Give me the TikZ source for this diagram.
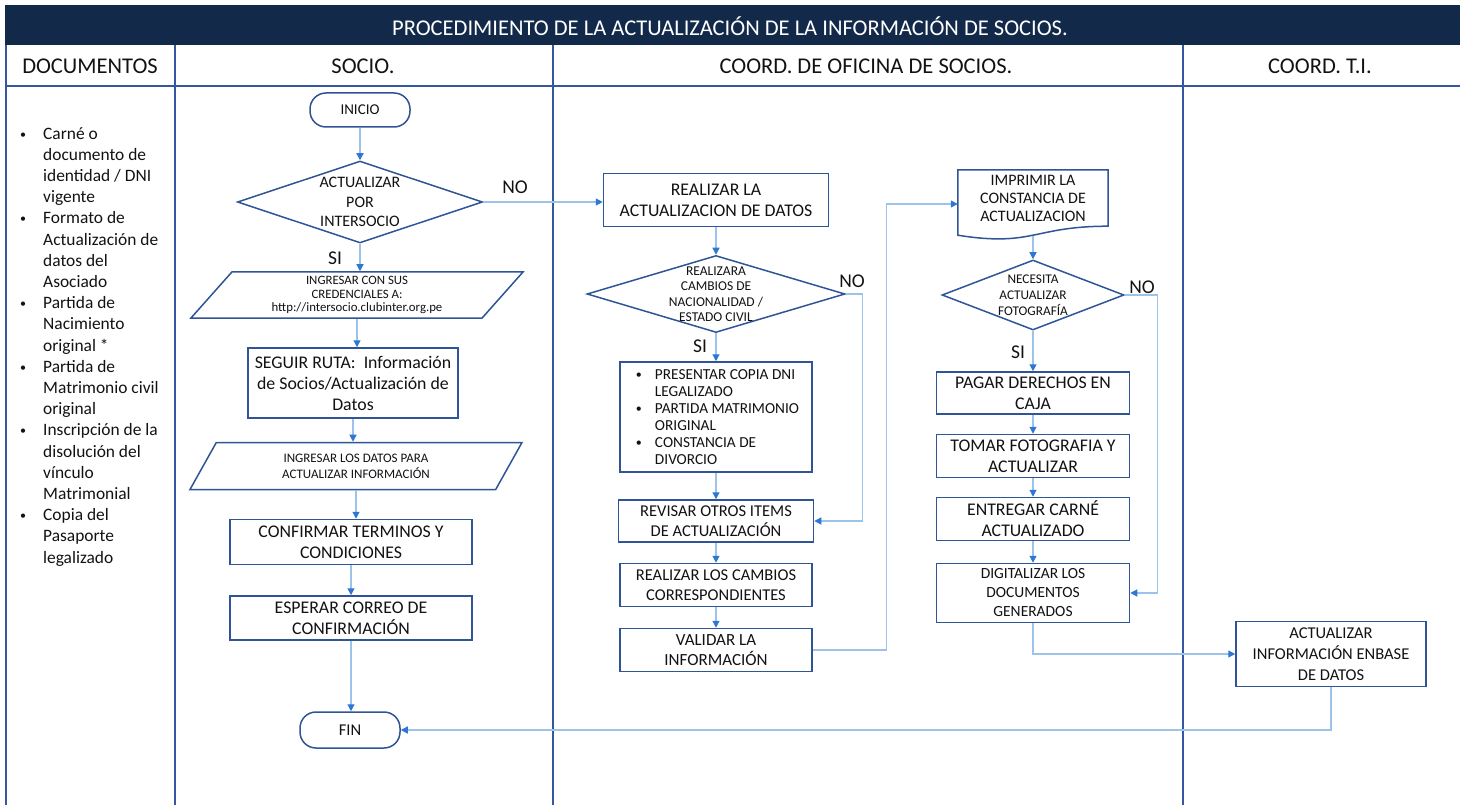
\documentclass[tikz,border=0pt]{standalone}
\usepackage{fontspec}
\setmainfont{Carlito}
\usetikzlibrary{positioning,calc,arrows.meta,shapes.geometric}
\definecolor{navy}{HTML}{12294A}
\definecolor{lane}{HTML}{3556A0}
\definecolor{boxblue}{HTML}{2F5597}
\definecolor{flow}{HTML}{9CC3EA}
\definecolor{tipblue}{HTML}{2E78D2}
\definecolor{ink}{HTML}{121212}
\newcommand{\fsz}[2]{\fontsize{#1}{#2}\selectfont}
\newcommand{\itm}[1]{\makebox[#1][l]{\hspace{3pt}\raisebox{1pt}{\fsz{12}{12}\textbullet}}}
\newcommand{\ind}[1]{\hspace*{#1}}
\tikzset{
	box/.style={draw=boxblue, line width=1.5pt, fill=white, align=center, text=ink, inner sep=1pt, font=\fsz{17.8}{21}},
	term/.style={box, rounded corners=16pt, font=\fsz{15}{16}},
	dec/.style={diamond, draw=boxblue, line width=1.5pt, fill=white, inner sep=0pt},
	dectext/.style={align=center, text=ink, inner sep=0pt},
	io/.style={trapezium, trapezium left angle=43, trapezium right angle=137, trapezium stretches body, draw=boxblue, line width=1.5pt, fill=white, align=center, text=ink, inner sep=0pt},
	flowline/.style={draw=flow, line width=1.3pt, -{Triangle[length=7pt,width=7pt,color=tipblue]}},
	answer/.style={text=ink, font=\fsz{19.5}{20}},
	lanehead/.style={text=ink, font=\fsz{22.5}{24}},
}

\begin{document}
\begin{tikzpicture}[x=1pt, y=-1pt]
	\useasboundingbox (0,0) rectangle (1460,805);

	% lanes
	\fill[navy] (5,5) rectangle (1460,45);
	\node[text=white, font=\fsz{22.5}{24}] (title) at (730,26) {PROCEDIMIENTO DE LA ACTUALIZACIÓN DE LA INFORMACIÓN DE SOCIOS.};
	\foreach \lx in {6,175,553,1183} {
		\draw[lane, line width=1.6pt] (\lx,45) -- (\lx,805);
	}
	\draw[lane, line width=2pt] (5,86) -- (1460,86);
	\node[lanehead] (hdoc) at (90,66) {DOCUMENTOS};
	\node[lanehead] (hsocio) at (363,66) {SOCIO.};
	\node[lanehead] (hcoord) at (866,66) {COORD. DE OFICINA DE SOCIOS.};
	\node[lanehead] (hti) at (1320,66) {COORD. T.I.};

	\node[anchor=north west, align=left, text=ink, font=\fsz{17.4}{21.2}, inner sep=0pt] (docs) at (17,127) {%
		\itm{26pt}Carné o\\ \ind{26pt}documento de\\ \ind{26pt}identidad / DNI\\ \ind{26pt}vigente\\
		\itm{26pt}Formato de\\ \ind{26pt}Actualización de\\ \ind{26pt}datos del\\ \ind{26pt}Asociado\\
		\itm{26pt}Partida de\\ \ind{26pt}Nacimiento\\ \ind{26pt}original *\\
		\itm{26pt}Partida de\\ \ind{26pt}Matrimonio civil\\ \ind{26pt}original\\
		\itm{26pt}Inscripción de la\\ \ind{26pt}disolución del\\ \ind{26pt}vínculo\\ \ind{26pt}Matrimonial\\
		\itm{26pt}Copia del\\ \ind{26pt}Pasaporte\\ \ind{26pt}legalizado};

	% socio
	\node[term, minimum width=100pt, minimum height=34pt] (inicio) at (360,110) {INICIO};
	\node[dec, minimum width=245pt, minimum height=82pt,
		label={[dectext, font=\fsz{16}{19.5}]center:{ACTUALIZAR\\POR\\INTERSOCIO}}] (d1) at (360,202) {};
	\node[io, minimum width=332pt, minimum height=46pt, font=\fsz{12.8}{13.8}] (p1) at (357,295) {INGRESAR CON SUS\\CREDENCIALES A:\\http://intersocio.clubinter.org.pe};
	\node[box, minimum width=210pt, minimum height=70pt] (seg) at (353,383) {SEGUIR RUTA:\ \ Información\\de Socios/Actualización de\\Datos};
	\node[io, minimum width=332pt, minimum height=47pt, font=\fsz{13}{16}] (p2) at (356,466) {INGRESAR LOS DATOS PARA\\ACTUALIZAR INFORMACIÓN};
	\node[box, minimum width=242pt, minimum height=45pt] (conf) at (351,542) {CONFIRMAR TERMINOS Y\\CONDICIONES};
	\node[box, minimum width=242pt, minimum height=44pt] (esp) at (351,618) {ESPERAR CORREO DE\\CONFIRMACIÓN};
	\node[term, minimum width=100pt, minimum height=36pt, font=\fsz{16.5}{17}] (fin) at (350,730) {FIN};

	% coord. de oficina de socios
	\node[box, minimum width=225pt, minimum height=53pt] (r1) at (716,200) {REALIZAR LA\\ACTUALIZACION DE DATOS};
	\node[dec, minimum width=258pt, minimum height=77pt,
		label={[dectext, font=\fsz{13.5}{15.5}]center:{REALIZARA\\CAMBIOS DE\\NACIONALIDAD /\\ESTADO CIVIL}}] (d2) at (716,294) {};
	\node[box, minimum width=192pt, minimum height=110pt, align=left, font=\fsz{15.3}{17}] (bul) at (716,417) {%
		\itm{22pt}PRESENTAR COPIA DNI\\ \ind{22pt}LEGALIZADO\\
		\itm{22pt}PARTIDA MATRIMONIO\\ \ind{22pt}ORIGINAL\\
		\itm{22pt}CONSTANCIA DE\\ \ind{22pt}DIVORCIO};
	\node[box, minimum width=195pt, minimum height=42pt, font=\fsz{16.5}{20}] (rev) at (716,521) {REVISAR OTROS ITEMS\\DE ACTUALIZACIÓN};
	\node[box, minimum width=192pt, minimum height=43pt, font=\fsz{16.5}{20}] (camb) at (716,585) {REALIZAR LOS CAMBIOS\\CORRESPONDIENTES};
	\node[box, minimum width=192pt, minimum height=43pt, font=\fsz{17}{20}] (val) at (716,650) {VALIDAR LA\\INFORMACIÓN};

	\node[align=center, text=ink, font=\fsz{16}{18}, minimum width=150pt, minimum height=56pt, inner sep=0pt] (imp) at (1033,198) {IMPRIMIR LA\\CONSTANCIA DE\\ACTUALIZACION};
	\draw[boxblue, line width=1.5pt] (imp.north west) -- (imp.north east) -- (imp.south east)
		.. controls (imp.south) and ([yshift=-21pt]imp.south) .. ([yshift=-9pt]imp.south west) -- cycle;
	\node[dec, minimum width=182pt, minimum height=70pt,
		label={[dectext, font=\fsz{13.3}{16}]center:{NECESITA\\ACTUALIZAR\\FOTOGRAFÍA}}] (d3) at (1033,295) {};
	\node[box, minimum width=193pt, minimum height=42pt] (pag) at (1033,393) {PAGAR DERECHOS EN\\CAJA};
	\node[box, minimum width=193pt, minimum height=43pt] (tom) at (1033,456) {TOMAR FOTOGRAFIA Y\\ACTUALIZAR};
	\node[box, minimum width=193pt, minimum height=43pt] (ent) at (1033,519) {ENTREGAR CARNÉ\\ACTUALIZADO};
	\node[box, minimum width=193pt, minimum height=59pt, font=\fsz{15.5}{19}] (dig) at (1033,593) {DIGITALIZAR LOS\\DOCUMENTOS\\GENERADOS};

	% coord. t.i.
	\node[box, minimum width=190pt, minimum height=65pt, font=\fsz{16.5}{21}] (act) at (1331,654) {ACTUALIZAR\\INFORMACIÓN ENBASE\\DE DATOS};

	% answers
	\node[answer] (no1) at (515,187) {NO};
	\node[answer] (si1) at (335,258) {SI};
	\node[answer] (no2) at (852,281) {NO};
	\node[answer] (si2) at (700,346) {SI};
	\node[answer] (no3) at (1142,287) {NO};
	\node[answer] (si3) at (1018,352) {SI};

	% connectors
	\draw[flowline] (inicio.south) -- (inicio.south |- d1.north);
	\draw[flowline] (d1.south) -- (d1.south |- p1.north);
	\draw[flowline] (p1.south) -- (p1.south |- seg.north);
	\draw[flowline] (seg.south) -- (seg.south |- p2.north);
	\draw[flowline] (p2.south) -- (p2.south |- conf.north);
	\draw[flowline] (conf.south) -- (esp.north);
	\draw[flowline] (esp.south) -- (esp.south |- fin.north);
	\draw[flowline] (d1.east) -- (d1.east -| r1.west);

	\draw[flowline] (r1.south) -- (d2.north);
	\draw[flowline] (d2.south) -- (bul.north);
	\draw[flowline] (d2.east) -- ++(17,0) |- (rev.east);
	\draw[flowline] (bul.south) -- (rev.north);
	\draw[flowline] (rev.south) -- (camb.north);
	\draw[flowline] (camb.south) -- (val.north);
	\draw[flowline] (val.east) -- ++(74,0) |- ([yshift=-6pt]imp.west);

	\draw[flowline] ([yshift=-10pt]imp.south) -- (d3.north);
	\draw[flowline] (d3.south) -- (pag.north);
	\draw[flowline] (d3.east) -- ++(33,0) |- (dig.east);
	\draw[flowline] (pag.south) -- (tom.north);
	\draw[flowline] (tom.south) -- (ent.north);
	\draw[flowline] (ent.south) -- (dig.north);
	\draw[flowline] (dig.south) |- (act.west);
	\draw[flowline] (act.south) |- (fin.east);
\end{tikzpicture}
\end{document}
